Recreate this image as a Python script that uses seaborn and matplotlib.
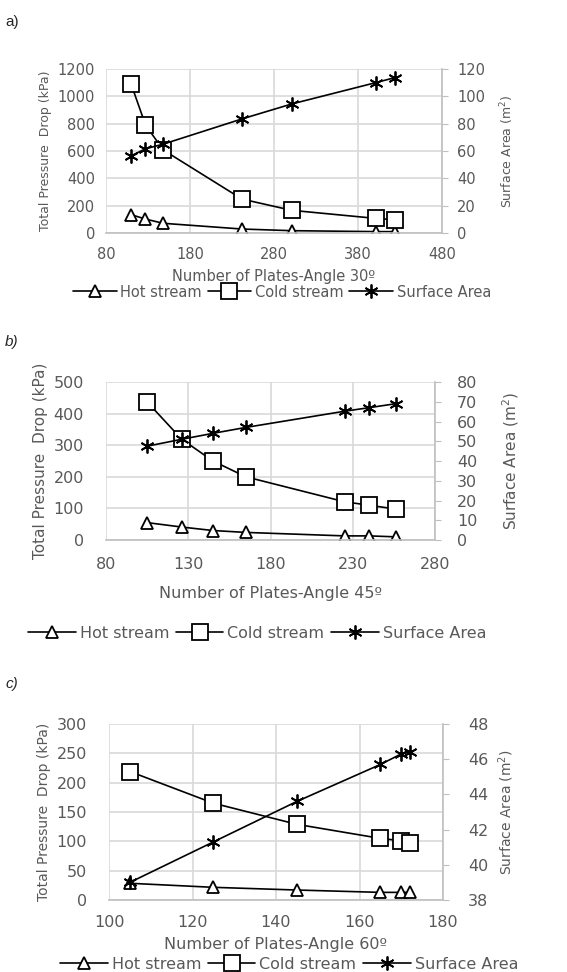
import matplotlib
matplotlib.use("Agg")
import matplotlib.pyplot as plt
import seaborn as sns
import pandas as pd

# Panel a) angle 30
plates_30 = [110, 127, 148, 242, 301, 401, 424]
hot_30 = [134, 102, 71, 29, 17, 10, 10]
cold_30 = [1088, 791, 608, 248, 166, 107, 97]
area_30 = [56.5, 61.6, 65.0, 83.5, 94.4, 110.0, 113.7]

# Panel b) angle 45
plates_45 = [105, 126, 145, 165, 225, 240, 256]
hot_45 = [55, 41, 30, 24, 13, 13, 10]
cold_45 = [437, 319, 250, 200, 121, 110, 98]
area_45 = [47.5, 51.0, 54.0, 57.0, 65.2, 67.0, 69.0]

# Panel c) angle 60
plates_60 = [105, 125, 145, 165, 170, 172]
hot_60 = [28.5, 21.6, 17, 13, 13, 13]
cold_60 = [219, 165, 129, 105, 101, 98]
area_60 = [39.0, 41.3, 43.6, 45.7, 46.3, 46.4]

series_names = ["Hot stream", "Cold stream", "Surface Area"]

sns.set_style("white")
plt.rcParams["font.family"] = ["DejaVu Sans"]

W, H = 567, 972
GRAY = "#595959"
GRID = "#d9d9d9"
fig = plt.figure(figsize=(W / 100, H / 100), dpi=100)


def px_axes(l, t, r, b):
    return fig.add_axes([l / W, 1 - b / H, (r - l) / W, (b - t) / H])


def draw_panel(box, x, hot, cold, area, xlim, xticks, ylim, yticks, rlim, rticks,
               xlabel, fs, yfs, legend_x, legend_y, rlabel_x, xpad, pads):
    ax = px_axes(*box)
    ax2 = ax.twinx()
    df = pd.DataFrame({"x": x, "hot": hot, "cold": cold, "area": area})
    common = dict(color="black", lw=1.2, mfc="white", mec="black", mew=1.3)
    sns.lineplot(data=df, x="x", y="hot", ax=ax, marker="^", ms=9, **common)
    sns.lineplot(data=df, x="x", y="cold", ax=ax, marker="s", ms=11, **common)
    sns.lineplot(data=df, x="x", y="area", ax=ax2, marker=(6, 2, 0), ms=10, **common)

    ax.set_xlim(*xlim)
    ax.set_xticks(xticks)
    ax.set_ylim(*ylim)
    ax.set_yticks(yticks)
    ax2.set_ylim(*rlim)
    ax2.set_yticks(rticks)
    ax.grid(True, color=GRID, lw=1.2)
    ax.set_axisbelow(True)
    for a in (ax, ax2):
        for s in a.spines.values():
            s.set_visible(False)
    ax.spines["bottom"].set_visible(True)
    ax.spines["bottom"].set_color("#bfbfbf")
    ax.spines["bottom"].set_linewidth(1.2)
    ax2.spines["right"].set_visible(True)
    ax2.spines["right"].set_color("#bfbfbf")
    ax2.spines["right"].set_linewidth(1.2)
    lpad, bpad, rpad = pads
    ax.tick_params(axis="y", length=0, labelsize=fs, labelcolor=GRAY, pad=lpad)
    ax.tick_params(axis="x", length=0, labelsize=fs, labelcolor=GRAY, pad=bpad)
    ax2.tick_params(axis="y", length=4, color="#bfbfbf", labelsize=fs, labelcolor=GRAY, pad=rpad)

    ax.set_xlabel(xlabel, fontsize=fs, color=GRAY, labelpad=xpad)
    ax.set_ylabel("Total Pressure  Drop (kPa)", fontsize=yfs, color=GRAY, labelpad=4)
    ax2.set_ylabel("Surface Area (m$^2$)", fontsize=yfs, color=GRAY)
    ax2.yaxis.set_label_coords(rlabel_x, 0.5)

    handles = ax.get_lines()[:2] + ax2.get_lines()[:1]
    fig.legend(handles, series_names, loc="center",
               bbox_to_anchor=(legend_x / W, 1 - legend_y / H),
               ncol=3, frameon=False, fontsize=fs, labelcolor=GRAY, handlelength=3.0,
               columnspacing=0.4, handletextpad=0.25, borderaxespad=0)


draw_panel((106, 69, 442, 233), plates_30, hot_30, cold_30, area_30,
           (80, 480), range(80, 481, 100), (0, 1200), range(0, 1201, 200),
           (0, 120), range(0, 121, 20), "Number of Plates-Angle 30\u00ba",
           10.5, 9, 282, 292, 1.167, 5, (8, 10, 7))
draw_panel((106, 382, 435, 540), plates_45, hot_45, cold_45, area_45,
           (80, 280), range(80, 281, 50), (0, 500), range(0, 501, 100),
           (0, 80), range(0, 81, 10), "Number of Plates-Angle 45\u00ba",
           11.5, 11, 257, 633, 1.2, 10, (16, 12, 12))
draw_panel((109, 724, 443, 900), plates_60, hot_60, cold_60, area_60,
           (100, 180), range(100, 181, 20), (0, 300), range(0, 301, 50),
           (38, 48), range(38, 49, 2), "Number of Plates-Angle 60\u00ba",
           11.5, 10, 289, 964, 1.16, 5, (16, 11, 14))

fig.text(5 / W, 1 - 22 / H, "a)", fontsize=11, family="Liberation Sans", va="center")
fig.text(5 / W, 1 - 342 / H, "b)", fontsize=11, family="Liberation Sans", style="italic", va="center")
fig.text(5 / W, 1 - 684 / H, "c)", fontsize=11, family="Liberation Sans", style="italic", va="center")

fig.savefig("out.png", dpi=100)
